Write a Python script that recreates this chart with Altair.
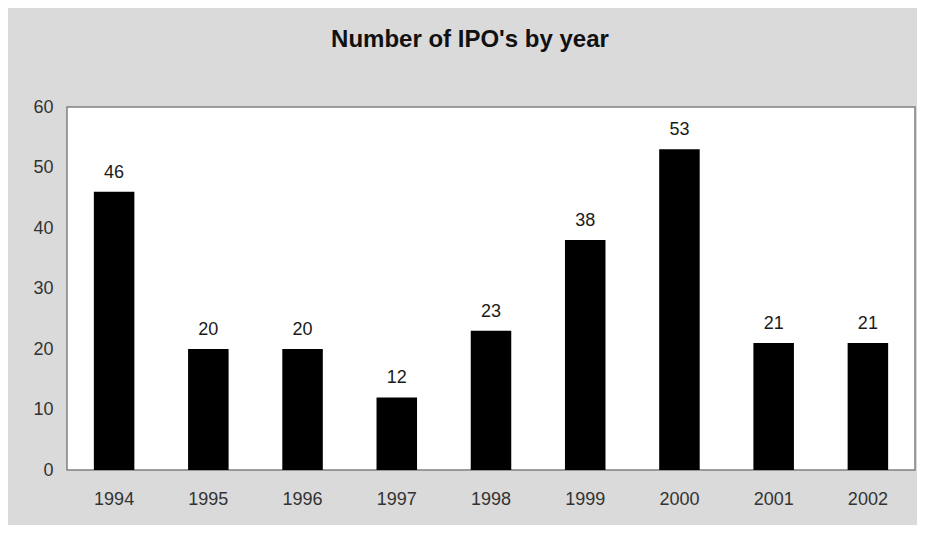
import altair as alt
import pandas as pd

years = ["1994", "1995", "1996", "1997", "1998", "1999", "2000", "2001", "2002"]
ipos = [46, 20, 20, 12, 23, 38, 53, 21, 21]

df = pd.DataFrame({"year": years, "ipos": ipos})

base = alt.Chart(df).encode(
    x=alt.X("year:N", sort=years,
            scale=alt.Scale(paddingInner=0.57, paddingOuter=0.285),
            axis=alt.Axis(title=None, labelAngle=0, ticks=False, domain=False,
                          labelPadding=20, labelFontSize=18, labelColor="#333333",
                          labelFont="Liberation Sans")),
    y=alt.Y("ipos:Q", scale=alt.Scale(domain=[0, 60]),
            axis=alt.Axis(title=None, values=[0, 10, 20, 30, 40, 50, 60], ticks=False,
                          domain=False, grid=False, labelPadding=14, labelFontSize=18,
                          labelColor="#333333", labelFont="Liberation Sans")),
)

bars = base.mark_bar(color="#000000")
labels = base.mark_text(dy=-19, fontSize=18, font="Liberation Sans", color="#1a1a1a").encode(
    text="ipos:Q")

chart = (bars + labels).properties(
    width=848, height=363,
    title=alt.TitleParams("Number of IPO's by year", font="Liberation Sans", fontSize=24,
                          fontWeight="bold", color="#111111", offset=46, dx=-21),
    autosize=alt.AutoSizeParams(type="none"),
    padding={"left": 59, "top": 99, "right": 2, "bottom": 55},
    background="#dadada",
).configure_view(stroke="#808080", strokeWidth=1.5, fill="#ffffff")

chart.save("out.html", embed_options={"renderer": "svg", "actions": False})
